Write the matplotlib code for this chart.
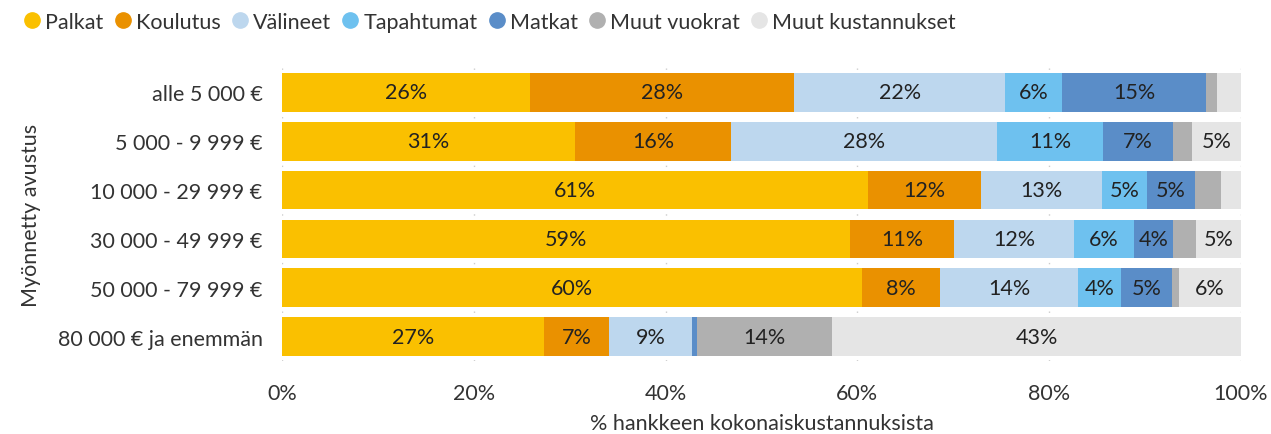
import numpy as np
import matplotlib.pyplot as plt
from matplotlib.lines import Line2D

plt.rcParams['font.family'] = ['Lato', 'DejaVu Sans']

ryhmat = ["alle 5 000 €", "5 000 - 9 999 €", "10 000 - 29 999 €", "30 000 - 49 999 €",
          "50 000 - 79 999 €", "80 000 € ja enemmän"]
sarjat = ["Palkat", "Koulutus", "Välineet", "Tapahtumat", "Matkat", "Muut vuokrat", "Muut kustannukset"]
varit = ["#FAC000", "#EA9100", "#BDD7EE", "#6EC1EF", "#5A8DC8", "#B0B0B0", "#E5E5E5"]

# osuudet (%) riveittäin, sarjat järjestyksessä
palkat = [25.9, 30.6, 61.1, 59.2, 60.5, 27.3]
koulutus = [27.5, 16.2, 11.8, 10.9, 8.1, 6.8]
valineet = [22.0, 27.8, 12.6, 12.5, 14.4, 8.7]
tapahtumat = [5.9, 11.0, 4.7, 6.2, 4.5, 0.0]
matkat = [15.1, 7.3, 5.0, 4.1, 5.3, 0.5]
muut_vuokrat = [1.1, 2.0, 2.7, 2.4, 0.7, 14.1]
muut_kust = [2.5, 5.1, 2.1, 4.7, 6.5, 42.6]

data = np.array([palkat, koulutus, valineet, tapahtumat, matkat, muut_vuokrat, muut_kust])

fs = 15.5
fig = plt.figure(figsize=(12.71, 4.35), dpi=100)
ax = fig.add_axes([282/1271, 1-362/435, (1241-282)/1271, (362-69)/435])

y = np.arange(len(ryhmat))
vasen = np.zeros(len(ryhmat))
for i in range(len(sarjat)):
    ax.barh(y, data[i], left=vasen, height=0.79, color=varit[i], label=sarjat[i], zorder=2)
    for j in range(len(ryhmat)):
        if data[i][j] >= 3.5:
            ax.text(vasen[j] + data[i][j]/2, y[j], "%d%%" % round(data[i][j]),
                    ha="center", va="center", fontsize=fs, color="#222222", zorder=3)
    vasen += data[i]

ax.set_xlim(0, 100)
ax.set_ylim(5.5, -0.5)
ax.set_xticks(np.arange(0, 101, 20))
ax.set_xticklabels(["%d%%" % v for v in range(0, 101, 20)])
ax.set_yticks(y)
ax.set_yticklabels(ryhmat)
ax.tick_params(axis="both", length=0, labelsize=fs, colors="#333333")
ax.tick_params(axis="x", pad=16)
ax.tick_params(axis="y", pad=14)
ax.grid(axis="x", color="#CCCCCC", linestyle=(0, (1, 4)), linewidth=1, zorder=0)
for s in ax.spines.values():
    s.set_visible(False)
ax.set_xlabel("% hankkeen kokonaiskustannuksista", fontsize=fs, color="#333333", labelpad=7)
ax.set_ylabel("Myönnetty avustus", fontsize=fs, color="#333333", labelpad=12)

kahvat = [Line2D([0], [0], marker="o", linestyle="", markersize=11,
                 markerfacecolor=c, markeredgecolor=c) for c in varit]
fig.legend(kahvat, sarjat, loc="upper left", bbox_to_anchor=(0.0, 1.015), ncol=7, frameon=False,
           fontsize=fs, handletextpad=0.0, columnspacing=0.3, handlelength=1.2, labelcolor="#333333")

fig.savefig("out.png", dpi=100)
